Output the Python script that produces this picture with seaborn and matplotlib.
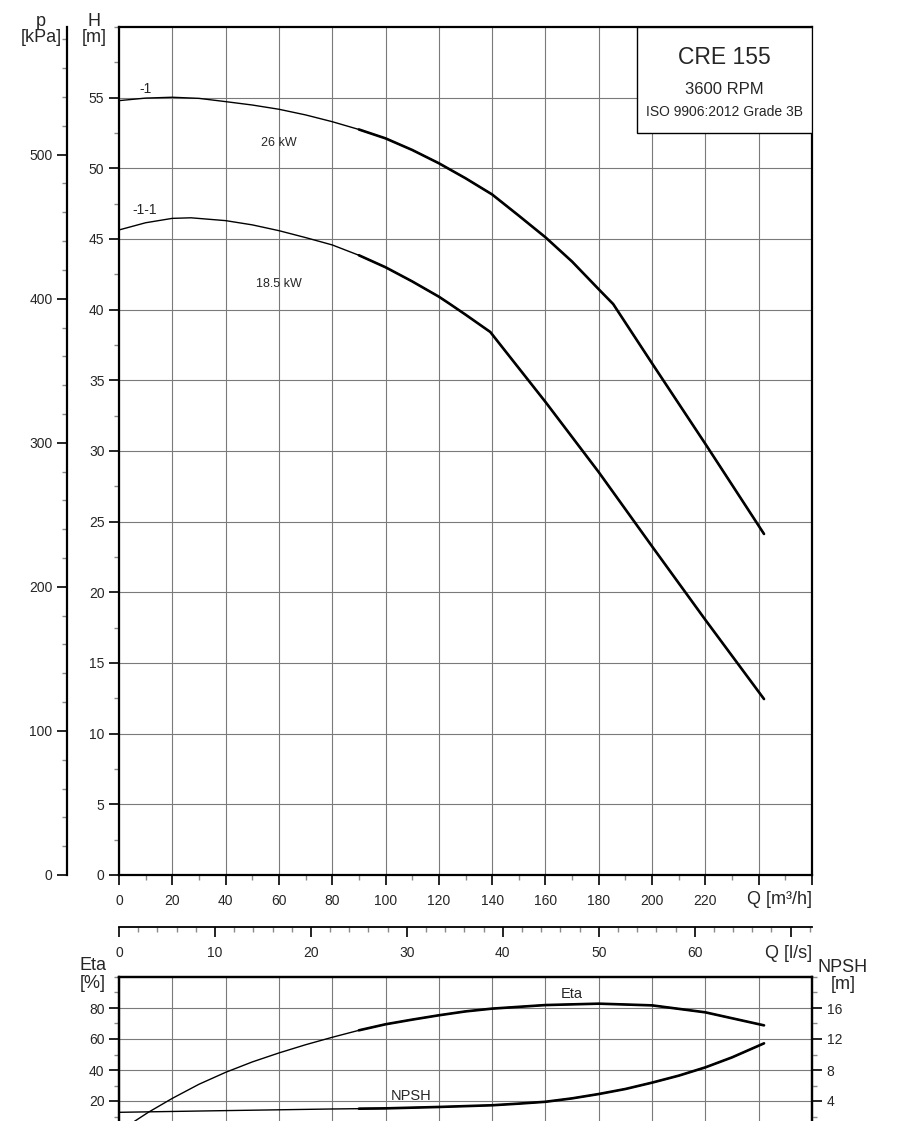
import numpy as np
import seaborn as sns
import matplotlib.pyplot as plt
from matplotlib.patches import Rectangle
from matplotlib.ticker import MultipleLocator

# ---- data read from the curve sheet ----
# pump curve -1 (26 kW), Q [m3/h] / H [m]
q_1 = [0, 10, 20, 30, 40, 50, 60, 70, 80, 90, 100, 110, 120, 130, 140, 150, 160, 170, 180, 185.4, 200, 220, 242]
h_1 = [54.79, 54.97, 55.03, 54.95, 54.72, 54.48, 54.18, 53.78, 53.30, 52.75, 52.12, 51.30, 50.36, 49.30,
       48.15, 46.65, 45.12, 43.40, 41.44, 40.40, 36.20, 30.50, 24.13]
# pump curve -1-1 (18.5 kW)
q_11 = [0, 10, 20, 27, 40, 50, 60, 70, 80, 90, 100, 110, 120, 124, 130, 139.3, 160, 180, 200, 220, 242]
h_11 = [45.64, 46.15, 46.46, 46.50, 46.30, 46.00, 45.59, 45.10, 44.58, 43.85, 43.00, 42.00, 40.92, 40.42,
        39.65, 38.42, 33.47, 28.50, 23.25, 18.05, 12.45]
# efficiency
q_eta = [0, 6, 11, 20, 30, 40, 50, 60, 70, 80, 90, 100, 110, 120, 130, 140, 160, 180, 200, 220, 242]
eta = [0, 7.1, 12.7, 21.7, 30.8, 38.5, 45.2, 51.0, 56.3, 61.1, 65.6, 69.5, 72.5, 75.3, 77.8, 79.6,
       81.9, 82.8, 81.7, 77.2, 68.8]
# NPSH
q_npsh = [0, 40, 80, 90, 100, 120, 140, 150, 160, 170, 180, 190, 200, 210, 220, 230, 242]
npsh = [2.54, 2.76, 2.97, 3.01, 3.05, 3.23, 3.45, 3.66, 3.90, 4.34, 4.90, 5.55, 6.37, 7.27, 8.34, 9.63, 11.44]

q_major = list(range(0, 261, 20))
q_labels = [str(v) if v <= 220 else '' for v in q_major]
qls_major = list(range(0, 71, 10))
qls_labels = [str(v) if v <= 60 else '' for v in qls_major]
rho_g = 9.81  # kPa per m
thick_from = 90

sns.set_style('white')
plt.rcParams['font.family'] = ['Liberation Sans', 'DejaVu Sans']
plt.rcParams['axes.linewidth'] = 1.6

W, H = 901, 1121
fig = plt.figure(figsize=(W / 100, H / 100), dpi=100)


def fx(px):
    return px / W


def fy(py):
    return 1 - py / H


def rect(x0, y0, x1, y1):
    return [fx(x0), fy(y1), fx(x1) - fx(x0), fy(y0) - fy(y1)]


grid_kw = dict(color='#7a7a7a', linewidth=0.8)
tick_kw = dict(labelsize=10, width=1.2, length=7, color='black')
minor_kw = dict(width=1.0, length=3.5, color='#8a8a8a')
lab_fs = 13


def curve(ax, x, y, thick=True):
    sns.lineplot(x=x, y=y, ax=ax, color='black', linewidth=1.0, sort=False, estimator=None, legend=False)
    if thick:
        xs = [a for a in x if a >= thick_from]
        ys = [b for a, b in zip(x, y) if a >= thick_from]
        sns.lineplot(x=xs, y=ys, ax=ax, color='black', linewidth=1.9, sort=False, estimator=None, legend=False)


# ---- main H-Q panel ----
ax = fig.add_axes(rect(119, 27, 812, 875))
ax.set_xlim(0, 260)
ax.set_ylim(0, 60)
ax.set_axisbelow(True)
ax.grid(True, which='major', **grid_kw)
ax.set_xticks(q_major)
ax.set_xticklabels(q_labels)
ax.xaxis.set_minor_locator(MultipleLocator(10))
ax.set_yticks(np.arange(0, 56, 5))
ax.yaxis.set_minor_locator(MultipleLocator(2.5))
ax.tick_params(axis='y', which='major', direction='out', left=True, pad=3.5, **tick_kw)
ax.tick_params(axis='x', which='major', direction='out', bottom=True, pad=7, **tick_kw)
ax.tick_params(axis='both', which='minor', direction='out', bottom=True, left=True, **minor_kw)
for s in ax.spines.values():
    s.set_color('black')

curve(ax, q_1, h_1)
curve(ax, q_11, h_11)

ax.text(10.1, 55.33, '-1', fontsize=10, ha='center', va='baseline')
ax.text(9.7, 46.8, '-1-1', fontsize=10, ha='center', va='baseline')
ax.text(60, 51.58, '26 kW', fontsize=9, ha='center', va='baseline')
ax.text(60, 41.58, '18.5 kW', fontsize=9, ha='center', va='baseline')

box_x0 = (637 - 119) / 693
box_y0 = (875 - 133) / 848
ax.add_patch(Rectangle((box_x0, box_y0), 1 - box_x0, 1 - box_y0, transform=ax.transAxes,
                       facecolor='white', edgecolor='black', linewidth=1.0, zorder=5))
fig.text(fx(724.5), fy(57.5), 'CRE 155', fontsize=16.5, ha='center', va='center', zorder=6)
fig.text(fx(724.5), fy(89.5), '3600 RPM', fontsize=12, ha='center', va='center', zorder=6)
fig.text(fx(724.5), fy(112), 'ISO 9906:2012 Grade 3B', fontsize=10, ha='center', va='center', zorder=6)

# ---- pressure axis ----
ax_p = fig.add_axes(rect(119, 27, 812, 875))
ax_p.patch.set_visible(False)
for k, s in ax_p.spines.items():
    s.set_visible(k == 'left')
ax_p.spines['left'].set_position(('axes', -(119 - 67) / 693))
ax_p.spines['left'].set_color('black')
ax_p.set_ylim(0, 60 * rho_g)
ax_p.set_xticks([])
ax_p.set_yticks(range(0, 501, 100))
ax_p.yaxis.set_minor_locator(MultipleLocator(20))
ax_p.tick_params(axis='y', which='major', direction='out', left=True, pad=3.5, **tick_kw)
ax_p.tick_params(axis='y', which='minor', direction='out', left=True, **minor_kw)

fig.text(fx(41), fy(29.5), 'p\n[kPa]', fontsize=lab_fs, ha='center', va='center', linespacing=1.0)
fig.text(fx(94), fy(29.5), 'H\n[m]', fontsize=lab_fs, ha='center', va='center', linespacing=1.0)
fig.text(fx(812), fy(900), 'Q [m³/h]', fontsize=lab_fs, ha='right', va='center')

# ---- Q [l/s] axis ----
ax_q = fig.add_axes([fx(119), fy(927), fx(812) - fx(119), 1e-4])
ax_q.patch.set_visible(False)
for k, s in ax_q.spines.items():
    s.set_visible(k == 'bottom')
ax_q.spines['bottom'].set_linewidth(1.3)
ax_q.spines['bottom'].set_color('black')
ax_q.set_xlim(0, 260 / 3.6)
ax_q.set_yticks([])
ax_q.set_xticks(qls_major)
ax_q.set_xticklabels(qls_labels)
ax_q.xaxis.set_minor_locator(MultipleLocator(2))
ax_q.tick_params(axis='x', which='major', direction='out', bottom=True, pad=6.5, **tick_kw)
ax_q.tick_params(axis='x', which='minor', direction='out', bottom=True, **minor_kw)
fig.text(fx(812), fy(953), 'Q [l/s]', fontsize=lab_fs, ha='right', va='center')

# ---- Eta / NPSH panel ----
ax2 = fig.add_axes(rect(119, 977, 812, 1132))
ax2.set_xlim(0, 260)
ax2.set_ylim(0, 100)
ax2.set_axisbelow(True)
ax2.set_xticks(q_major)
ax2.set_xticklabels([])
ax2.tick_params(axis='x', which='both', length=0)
ax2.set_yticks([20, 40, 60, 80])
ax2.yaxis.set_minor_locator(MultipleLocator(10))
ax2.grid(True, which='major', **grid_kw)
ax2.tick_params(axis='y', which='major', direction='out', left=True, pad=3.5, **tick_kw)
ax2.tick_params(axis='y', which='minor', direction='out', left=True, **minor_kw)
for s in ax2.spines.values():
    s.set_color('black')

ax3 = ax2.twinx()
ax3.set_ylim(0, 20)
ax3.set_yticks([4, 8, 12, 16])
ax3.yaxis.set_minor_locator(MultipleLocator(2))
ax3.tick_params(axis='y', which='major', direction='out', right=True, pad=3.5, **tick_kw)
ax3.tick_params(axis='y', which='minor', direction='out', right=True, **minor_kw)
ax3.grid(False)
for s in ax3.spines.values():
    s.set_color('black')

curve(ax2, q_eta, eta)
curve(ax3, q_npsh, npsh)
ax2.text(169.7, 86.3, 'Eta', fontsize=10.5, ha='center', va='baseline')
ax2.text(109.6, 20.6, 'NPSH', fontsize=10.5, ha='center', va='baseline')

fig.text(fx(93), fy(974.5), 'Eta\n[%]', fontsize=lab_fs, ha='center', va='center', linespacing=1.0)
fig.text(fx(843), fy(976), 'NPSH\n[m]', fontsize=lab_fs, ha='center', va='center', linespacing=1.0)

fig.savefig('out.png', dpi=100)
